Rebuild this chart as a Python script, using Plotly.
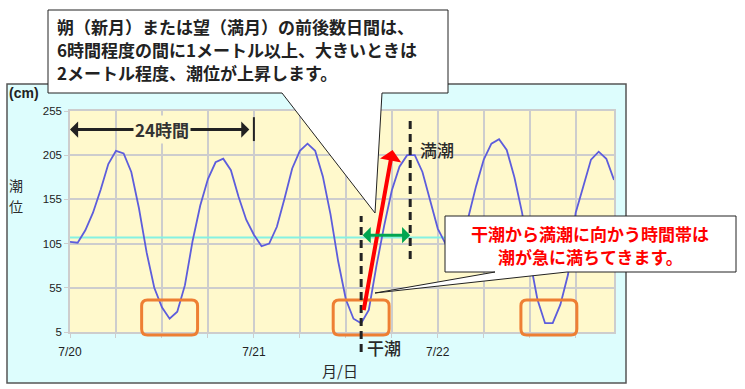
import numpy as np
import plotly.graph_objects as go

# ---------------- data ----------------
hours = list(range(72))  # hourly points from 7/20 0:00
tide_cm = [107, 106, 120, 140, 166, 195, 210, 207, 186, 145,
           95, 55, 33, 20, 28, 58, 108, 148, 178, 197,
           201, 188, 158, 132, 115, 102, 105, 124, 156, 190,
           210, 218, 210, 181, 138, 85, 42, 20, 15, 30,
           80, 125, 165, 192, 205, 205, 186, 155, 122, 105,
           100, 110, 135, 170, 200, 218, 223, 211, 180, 140,
           88, 42, 15, 15, 36, 70, 140, 170, 200, 209,
           201, 177]
mean_level = 112
y_ticks = [5, 55, 105, 155, 205, 255]
day_ticks = {0: "7/20", 24: "7/21", 48: "7/22"}
low_hour, high_hour = 38, 44.4
rise_from, rise_to = (38.3, 28), (42.1, 211)

# ---------------- geometry helpers ----------------
W, H = 745, 389
L, R, T, B = 70, 614, 111, 332


def px(x):
    return (x - L) / (R - L)


def py(y):
    return (B - y) / (B - T)


JP = "Noto Sans CJK JP"
NUM = "Liberation Sans"
PLOT_BG = "#fff9cc"

fig = go.Figure()
fig.add_trace(go.Scatter(x=[0, 71], y=[mean_level, mean_level], mode="lines",
                         line=dict(color="#86f2e2", width=2), hoverinfo="skip"))
fig.add_trace(go.Scatter(x=hours, y=tide_cm, mode="lines",
                         line=dict(color="#5d5ddc", width=1.8), hoverinfo="skip"))

shapes = []
# outer cyan panel
shapes.append(dict(type="rect", xref="paper", yref="paper", x0=px(7), x1=px(626),
                   y0=py(383), y1=py(84), fillcolor="#ddfdfd",
                   line=dict(color="#555555", width=1.5), layer="below"))
# plot background
shapes.append(dict(type="rect", xref="paper", yref="paper", x0=0, x1=1, y0=0, y1=1,
                   fillcolor=PLOT_BG, line=dict(width=0), layer="below"))

# orange rounded boxes around low tides
arr = np.array(tide_cm)
for a, b in [(6, 20), (32, 44), (58, 67)]:
    seg = arr[a:b]
    idx = np.where(seg == seg.min())[0] + a
    c = float(idx.mean())
    x0, x1 = c - 3.65, c + 3.65
    y0, y1 = py(335), py(300)
    rx, ry = 0.75, 6 / (B - T)
    path = (f"M{x0+rx},{y1} L{x1-rx},{y1} Q{x1},{y1} {x1},{y1-ry} "
            f"L{x1},{y0+ry} Q{x1},{y0} {x1-rx},{y0} L{x0+rx},{y0} "
            f"Q{x0},{y0} {x0},{y0+ry} L{x0},{y1-ry} Q{x0},{y1} {x0+rx},{y1} Z")
    shapes.append(dict(type="path", xref="x", yref="paper", path=path,
                       line=dict(color="#ee7f33", width=3), layer="above"))

# dashed low/high tide lines
shapes.append(dict(type="line", xref="x", yref="paper", x0=low_hour, x1=low_hour,
                   y0=py(352), y1=py(216), line=dict(color="#222222", width=3, dash="8px,5px")))
shapes.append(dict(type="line", xref="x", yref="paper", x0=high_hour, x1=high_hour,
                   y0=py(259), y1=py(117), line=dict(color="#222222", width=3, dash="8px,5px")))
# 24h end bar
shapes.append(dict(type="line", xref="x", yref="y", x0=24, x1=24, y0=221, y1=248,
                   line=dict(color="#222222", width=2)))


def callout(pts):
    d = "M" + " L".join(f"{px(x)},{py(y)}" for x, y in pts) + " Z"
    return dict(type="path", xref="paper", yref="paper", path=d, fillcolor="white",
                line=dict(color="#222222", width=1), layer="above")


shapes.append(callout([(48, 10), (448, 10), (448, 93), (382, 93), (375, 213), (282, 93), (48, 93)]))
shapes.append(callout([(445, 216), (736, 216), (736, 272), (567, 272), (375, 293), (495, 272), (445, 272)]))

ann = []
# 24 hour arrow
ann.append(dict(x=0, y=234, ax=23.6, ay=234, xref="x", yref="y", axref="x", ayref="y",
                text="", showarrow=True, arrowhead=1, arrowsize=0.9, arrowwidth=3,
                arrowcolor="#222222", arrowside="end+start", standoff=0, startstandoff=0))
ann.append(dict(x=12, y=234, xref="x", yref="y", text="<b>24時間</b>", showarrow=False,
                bgcolor=PLOT_BG, font=dict(family=JP, size=17, color="#333333")))
# red rise arrow
ann.append(dict(x=rise_to[0], y=rise_to[1], ax=rise_from[0], ay=rise_from[1],
                xref="x", yref="y", axref="x", ayref="y", text="", showarrow=True,
                arrowhead=1, arrowsize=0.9, arrowwidth=4, arrowcolor="#ff0000", standoff=0))
# green duration arrow
ann.append(dict(x=high_hour, y=114.5, ax=low_hour, ay=114.5, xref="x", yref="y",
                axref="x", ayref="y", text="", showarrow=True, arrowhead=1, arrowsize=0.9,
                arrowwidth=3, arrowcolor="#00a550", arrowside="end+start", standoff=0,
                startstandoff=0))


def ptext(x, y, text, size, color="#333333", xanchor="center", bold=False, family=JP,
          weight=None):
    if bold:
        text = f"<b>{text}</b>"
    font = dict(family=family, size=size, color=color)
    if weight:
        font["weight"] = weight
    ann.append(dict(x=px(x), y=py(y), xref="paper", yref="paper", text=text,
                    showarrow=False, xanchor=xanchor, yanchor="middle", font=font))


ptext(437, 149, "満潮", 17, color="#2a2a2a", weight=500)
ptext(384, 347, "干潮", 17, color="#2a2a2a", weight=500)
ptext(7, 93, "(cm)", 14, color="#222222", xanchor="left", bold=True, family=NUM)
ptext(16, 184.5, "潮", 14, color="#2a2a2a")
ptext(16, 205.5, "位", 14, color="#2a2a2a")
ptext(340, 370, "月/日", 15, color="#2a2a2a")

top_lines = ["朔（新月）または望（満月）の前後数日間は、",
             "6時間程度の間に1メートル以上、大きいときは",
             "2メートル程度、潮位が上昇します。"]
for i, t in enumerate(top_lines):
    ptext(55, 26 + 23 * i, t, 17, color="#222222", xanchor="left", bold=True)
right_lines = ["干潮から満潮に向かう時間帯は", "潮が急に満ちてきます。"]
for i, t in enumerate(right_lines):
    ptext(590, 233 + 23 * i, t, 17, color="#ff0000", bold=True)

xt = list(range(0, 72, 6))
fig.update_layout(
    width=W, height=H, margin=dict(l=L, r=W - R, t=T, b=H - B),
    paper_bgcolor="white", plot_bgcolor="rgba(0,0,0,0)", showlegend=False,
    shapes=shapes, annotations=ann,
    xaxis=dict(range=[0, 71], tickvals=xt, ticktext=[day_ticks.get(v, "") for v in xt],
               showgrid=True, gridcolor="#cdcdcd", gridwidth=1.5, zeroline=False,
               showline=True, linecolor="#cdcdcd", linewidth=1.5, mirror=True,
               ticks="outside", ticklen=4, tickcolor="#cdcdcd", ticklabelstandoff=4,
               tickfont=dict(family=NUM, size=12, color="#222222")),
    yaxis=dict(range=[5, 255], tickvals=y_ticks, showgrid=True, gridcolor="#cdcdcd",
               gridwidth=1.5, zeroline=False, showline=True, linecolor="#cdcdcd",
               linewidth=1.5, mirror=True, ticks="outside", ticklen=4, tickcolor="#cdcdcd",
               tickfont=dict(family=NUM, size=11.5, color="#222222")),
)
fig.write_html("out.html", config={"displayModeBar": False},
               post_script="document.body.style.margin='0';")
